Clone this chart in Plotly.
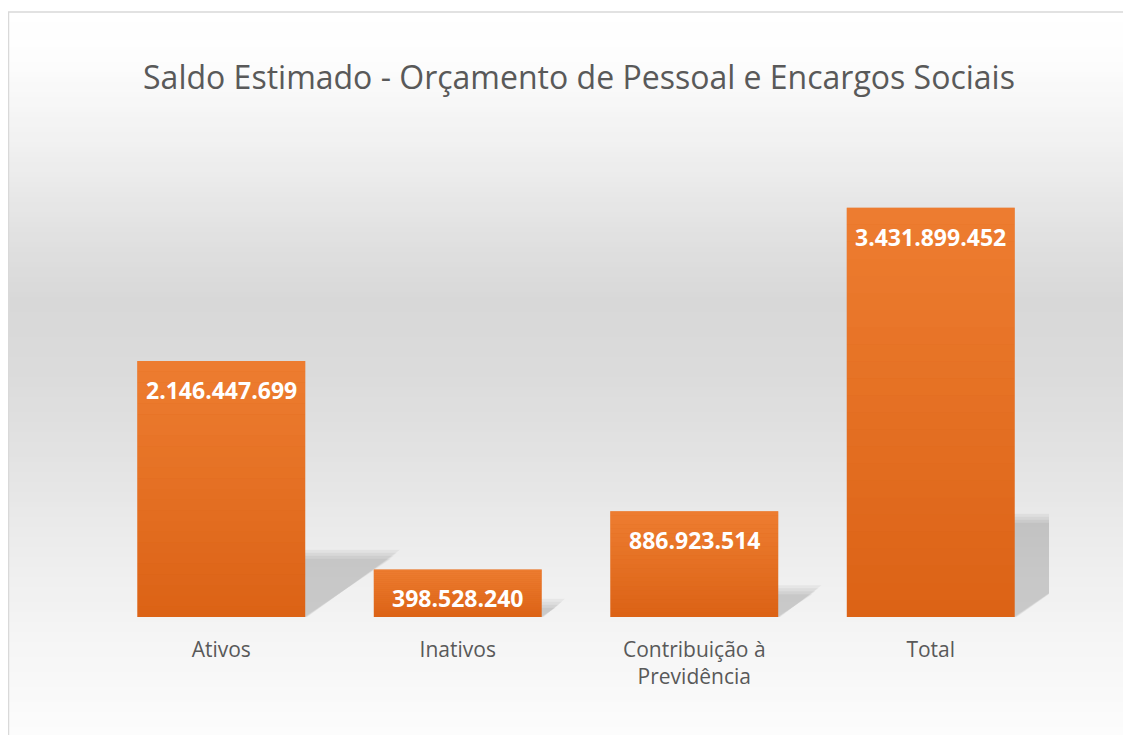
import plotly.graph_objects as go

# ---- data ----
categories = ["Ativos", "Inativos", "Contribuição à<br>Previdência", "Total"]
values = [2146447699, 398528240, 886923514, 3431899452]
title_text = "Saldo Estimado - Orçamento de Pessoal e Encargos Sociais"

# page has an 8px body margin; figure is sized so page = 1131x735
OFF = 8
W, H = 1131 - OFF, 735 - OFF
ML, MR, MT, MB = 95, 82, 132, 118
PW, PH = W - ML - MR, H - MT - MB
BAR_W = 0.71
Y_MAX = 4e9
N = len(values)
XU = N / PW          # x data units per pixel
YU = Y_MAX / PH      # y data units per pixel

def px_x(px):
    return (px - ML) / PW

def px_y(py):
    return (H - MB - py) / PH

def lerp(a, b, t):
    return a + (b - a) * t

# vertical background gradient stops (page pixel y, gray level)
stops = [(12, 255), (60, 253), (150, 240), (230, 226), (300, 216), (370, 219),
         (450, 226), (550, 237), (650, 246), (735, 252)]

def gray_at(py):
    for (y0, g0), (y1, g1) in zip(stops[:-1], stops[1:]):
        if y0 <= py <= y1:
            return lerp(g0, g1, (py - y0) / (y1 - y0))
    return stops[-1][1]

shapes = []
step = 5
y = 12
while y < 735:
    y2 = min(y + step, 735)
    g = int(round(gray_at((y + y2) / 2)))
    shapes.append(dict(type="rect", xref="paper", yref="paper",
                       x0=px_x(0), x1=px_x(W + 5), y0=px_y(y2 - OFF), y1=px_y(y - OFF),
                       fillcolor=f"rgb({g},{g},{g})", line=dict(width=0),
                       layer="below"))
    y = y2

# chart border
shapes.append(dict(type="rect", xref="paper", yref="paper",
                   x0=px_x(0.5), x1=px_x(W + 5), y0=px_y(H + 5), y1=px_y(12 - OFF),
                   fillcolor="rgba(0,0,0,0)", line=dict(color="#d9d9d9", width=1.5),
                   layer="below"))

# perspective shadows behind bars, derived from the bar values
SKEW = 1.73e-10   # x-units per value unit
SHADOW_H = 0.235  # fraction of bar height
for i, v in enumerate(values):
    s = v * SKEW
    h = v * SHADOW_H
    for d in [7, 4, 1, -2]:
        dx, dy = d * XU, d * YU
        xl, xr = i - BAR_W / 2, i + BAR_W / 2
        path = (f"M {xl},0 L {xr + dx * 0.3},0 L {xr + s + dx},{h + dy} "
                f"L {xl + s},{h + dy} Z")
        shapes.append(dict(type="path", xref="x", yref="y", path=path,
                           fillcolor="rgba(0,0,0,0.045)", line=dict(width=0),
                           layer="below"))

# subtle vertical gradient overlay on each bar (lighter toward the top)
SLICES = 24
for i, v in enumerate(values):
    for k in range(SLICES):
        t0, t1 = k / SLICES, (k + 1) / SLICES
        a = 0.5 * (t0 + t1) / 2 * 1.0
        shapes.append(dict(type="rect", xref="x", yref="y",
                           x0=i - BAR_W / 2, x1=i + BAR_W / 2,
                           y0=v * t0, y1=v * t1,
                           fillcolor=f"rgba(254,151,76,{a:.3f})",
                           line=dict(width=0), layer="above"))

fig = go.Figure()
fig.add_trace(go.Bar(
    x=list(range(N)), y=values,
    marker=dict(color="#DC6316", line=dict(width=0)),
    width=BAR_W,
    hoverinfo="skip",
))

for i, v in enumerate(values):
    fig.add_annotation(x=i, y=v, xref="x", yref="y",
                       text=f"{v:,}".replace(",", "."),
                       showarrow=False, yanchor="middle", yshift=-29,
                       font=dict(family="Open Sans", size=23, color="white",
                                 weight="bold"))

fig.update_layout(
    width=W, height=H,
    margin=dict(l=ML, r=MR, t=MT, b=MB),
    paper_bgcolor="white", plot_bgcolor="rgba(0,0,0,0)",
    separators=",.",
    showlegend=False,
    shapes=shapes,
    title=dict(text=title_text, x=(579 - OFF) / W, xref="container", xanchor="center",
               y=1 - (78 - OFF) / H, yref="container", yanchor="middle",
               font=dict(family="Open Sans", size=32, color="#595959")),
    xaxis=dict(range=[-0.5, N - 0.5],
               tickvals=list(range(N)), ticktext=categories,
               showline=False, showgrid=False, zeroline=False, ticks="",
               tickfont=dict(family="Open Sans", size=21, color="#595959"),
               ticklabelstandoff=18),
    yaxis=dict(visible=False, range=[0, Y_MAX], showgrid=False, zeroline=False),
)

fig.write_html("out.html")
